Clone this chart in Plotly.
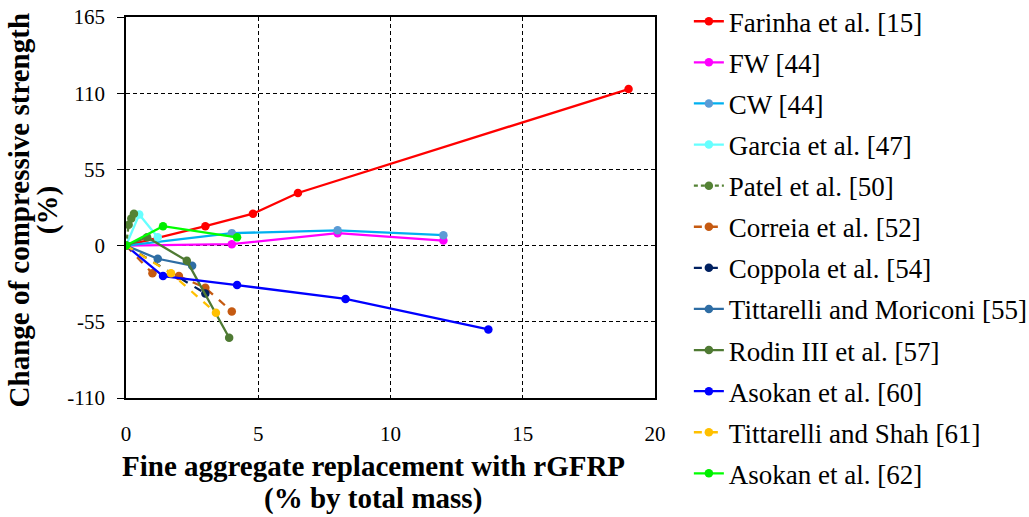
import plotly.graph_objects as go

# Replacement level (% by total mass) and change of compressive strength (%) per study
farinha_x = [0, 3.0, 4.8, 6.5, 19.0]
farinha_y = [0, 14, 23, 38, 113]

fw_x = [0, 4.0, 8.0, 12.0]
fw_y = [0, 1, 9, 3.6]

cw_x = [0, 4.0, 8.0, 12.0]
cw_y = [0, 9, 11, 7.5]

garcia_x = [0, 0.5, 1.2]
garcia_y = [0, 22.5, 6]

patel_x = [0, 0.1, 0.2, 0.3]
patel_y = [0, 15, 19.5, 23]

correia_x = [0, 1.0, 2.0, 3.0, 4.0]
correia_y = [0, -20, -22, -30.5, -47.5]

coppola_x = [0, 3.0]
coppola_y = [0, -34.5]

tit_mor_x = [0, 1.2, 2.5]
tit_mor_y = [0, -9.5, -14.5]

rodin_x = [0, 0.8, 2.3, 3.9]
rodin_y = [0, 6, -11, -66.5]

asokan60_x = [0, 1.4, 4.2, 8.3, 13.7]
asokan60_y = [0, -22, -28.5, -38.5, -60.5]

tit_shah_x = [0, 1.7, 3.4]
tit_shah_y = [0, -20, -48.5]

asokan62_x = [0, 1.4, 4.2]
asokan62_y = [0, 14, 6]

x_ticks = [0, 5, 10, 15, 20]
y_ticks = [-110, -55, 0, 55, 110, 165]

x_title = ["Fine aggregate replacement with rGFRP", "(% by total mass)"]
y_title = ["Change of compressive strength", "(%)"]

series = [
    ("Farinha et al. [15]", farinha_x, farinha_y, "#FF0000", "#FF0000", "solid"),
    ("FW [44]", fw_x, fw_y, "#FF00FF", "#FF00FF", "solid"),
    ("CW [44]", cw_x, cw_y, "#00B0F0", "#5B9BD5", "solid"),
    ("Garcia et al. [47]", garcia_x, garcia_y, "#66FFFF", "#66FFFF", "solid"),
    ("Patel et al. [50]", patel_x, patel_y, "#548235", "#548235", "4px,3px"),
    ("Correia et al. [52]", correia_x, correia_y, "#C55A11", "#C55A11", "8px,8px"),
    ("Coppola et al. [54]", coppola_x, coppola_y, "#002060", "#002060", "8px,8px"),
    ("Tittarelli and Moriconi [55]", tit_mor_x, tit_mor_y, "#2E6DA4", "#2E6DA4", "solid"),
    ("Rodin III et al. [57]", rodin_x, rodin_y, "#4F7A33", "#4F7A33", "solid"),
    ("Asokan et al. [60]", asokan60_x, asokan60_y, "#0000FF", "#0000FF", "solid"),
    ("Tittarelli and Shah [61]", tit_shah_x, tit_shah_y, "#FFC000", "#FFC000", "8px,8px"),
    ("Asokan et al. [62]", asokan62_x, asokan62_y, "#00FF00", "#00EE00", "solid"),
]

fig = go.Figure()
for name, xs, ys, lcol, mcol, dash in series:
    fig.add_trace(go.Scatter(
        x=xs, y=ys, name=name, mode="lines+markers",
        line=dict(color=lcol, width=2.3, dash=dash),
        marker=dict(color=mcol, size=8.5),
        legendgroup=name,
    ))

font_family = "Liberation Serif, Times New Roman, serif"

fig.update_layout(
    width=1029, height=517,
    margin=dict(l=126, r=374, t=17, b=119, autoexpand=False),
    paper_bgcolor="white", plot_bgcolor="white",
    font=dict(family=font_family, size=21, color="black"),
    showlegend=True,
    legend=dict(
        x=1.064, y=1.052, xanchor="left", yanchor="top",
        font=dict(family=font_family, size=27, color="black"),
        tracegroupgap=3, bgcolor="rgba(0,0,0,0)", maxheight=517,
    ),
)

# Axis titles as separate lines for tight line spacing
title_font = dict(family=font_family, size=29, color="black")
for txt, yp in zip(x_title, [-0.1785, -0.2625]):
    fig.add_annotation(text="<b>%s</b>" % txt, xref="paper", yref="paper",
                       x=0.467, y=yp, xanchor="center", yanchor="middle",
                       showarrow=False, font=title_font)
for txt, xp in zip(y_title, [-0.2015, -0.149]):
    fig.add_annotation(text="<b>%s</b>" % txt, xref="paper", yref="paper",
                       x=xp, y=0.4934, xanchor="center", yanchor="middle",
                       textangle=-90, showarrow=False, font=title_font)

fig.update_xaxes(
    range=[0, 20], tickvals=x_ticks, ticktext=[str(v) for v in x_ticks],
    showgrid=True, gridcolor="black", griddash="4px,3px", gridwidth=1,
    showline=True, linecolor="black", linewidth=1.5, mirror=True,
    zeroline=False, ticks="", tickfont=dict(size=21), ticklabelstandoff=16,
)
fig.update_yaxes(
    range=[-110, 165], tickvals=y_ticks, ticktext=[str(v) for v in y_ticks],
    showgrid=True, gridcolor="black", griddash="4px,3px", gridwidth=1,
    showline=True, linecolor="black", linewidth=1.5, mirror=True,
    zeroline=False, ticks="outside", ticklen=7, tickcolor="black",
    tickfont=dict(size=21), ticklabelstandoff=8,
)

fig.write_html("out.html")
